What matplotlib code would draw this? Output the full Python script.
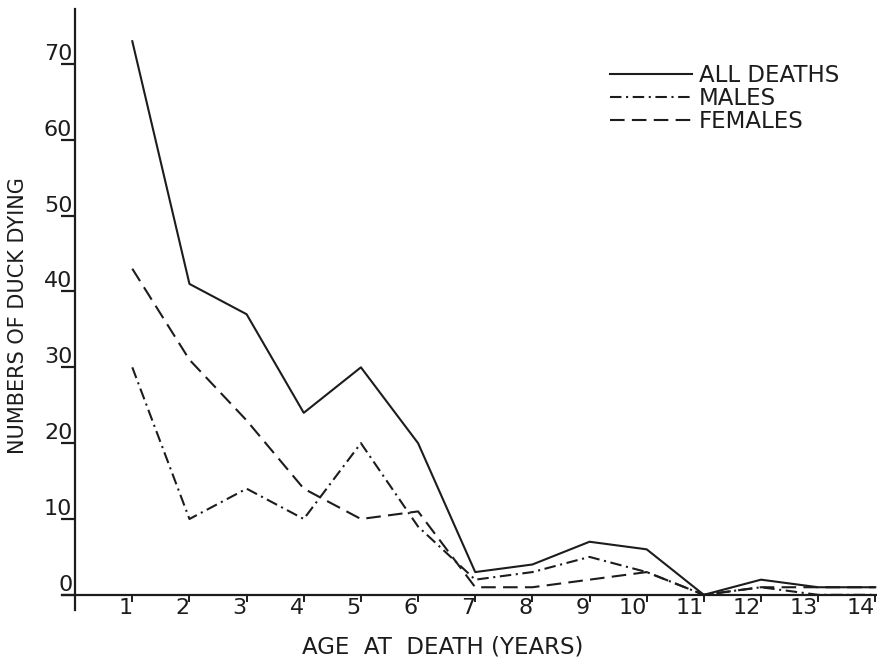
import matplotlib
matplotlib.use("Agg")
import matplotlib.pyplot as plt

# ages (years) and numbers of duck dying
ages = [1, 2, 3, 4, 5, 6, 7, 8, 9, 10, 11, 12, 13, 14]
all_deaths = [73, 41, 37, 24, 30, 20, 3, 4, 7, 6, 0, 2, 1, 1]
males = [30, 10, 14, 10, 20, 9, 2, 3, 5, 3, 0, 1, 0, 0]
females = [43, 31, 23, 14, 10, 11, 1, 1, 2, 3, 0, 1, 1, 1]
y_ticks = [0, 10, 20, 30, 40, 50, 60, 70]

ink = "#1c1c1c"
plt.rcParams['font.family'] = ['DejaVu Sans']

fig = plt.figure(figsize=(8.77, 6.59), dpi=100)
ax = fig.add_axes([62/877, 49/659, 815/877, 601/659])

ax.plot(ages, all_deaths, color=ink, lw=1.5, ls="-", label="ALL DEATHS")
ax.plot(ages, males, color=ink, lw=1.5, ls=(0, (5.5, 2.2, 1, 2.2)), label="MALES")
ax.plot(ages, females, color=ink, lw=1.5, ls=(0, (7, 3.5)), label="FEMALES")

ax.set_xlim(-0.23, 14.03)
ax.set_ylim(-2.0, 77.25)

ax.spines['top'].set_visible(False)
ax.spines['right'].set_visible(False)
ax.spines['left'].set_position(('data', 0))
ax.spines['bottom'].set_position(('data', 0))
for s in ('left', 'bottom'):
    ax.spines[s].set_linewidth(1.6)
    ax.spines[s].set_color(ink)

ax.set_xticks(ages)
ax.set_xticklabels([str(a) for a in ages])
ax.set_yticks(y_ticks)
ax.set_yticklabels([str(v) for v in y_ticks])

ax.tick_params(axis='y', direction='out', length=10, width=1.6, color=ink,
               pad=-8, labelsize=16, labelcolor=ink)
ax.tick_params(axis='x', direction='out', length=5, width=1.4, color=ink,
               pad=-2.5, labelsize=16, labelcolor=ink)
for t in ax.get_yticklabels():
    t.set_verticalalignment('bottom')
for t in ax.get_xticklabels():
    t.set_horizontalalignment('right')

ax.set_ylabel("NUMBERS OF DUCK DYING", fontsize=15, color=ink)
ax.yaxis.set_label_coords(-0.042, 0.49)
ax.set_xlabel("AGE  AT  DEATH (YEARS)", fontsize=16.5, color=ink)
ax.xaxis.set_label_coords(0.467, -0.042)

leg = ax.legend(loc='upper left', bbox_to_anchor=(0.672, 0.909), frameon=False,
                fontsize=16.5, handlelength=3.6, handletextpad=0.3,
                labelspacing=0.0, borderpad=0, borderaxespad=0)
for t in leg.get_texts():
    t.set_color(ink)

fig.savefig("out.png", dpi=100)
